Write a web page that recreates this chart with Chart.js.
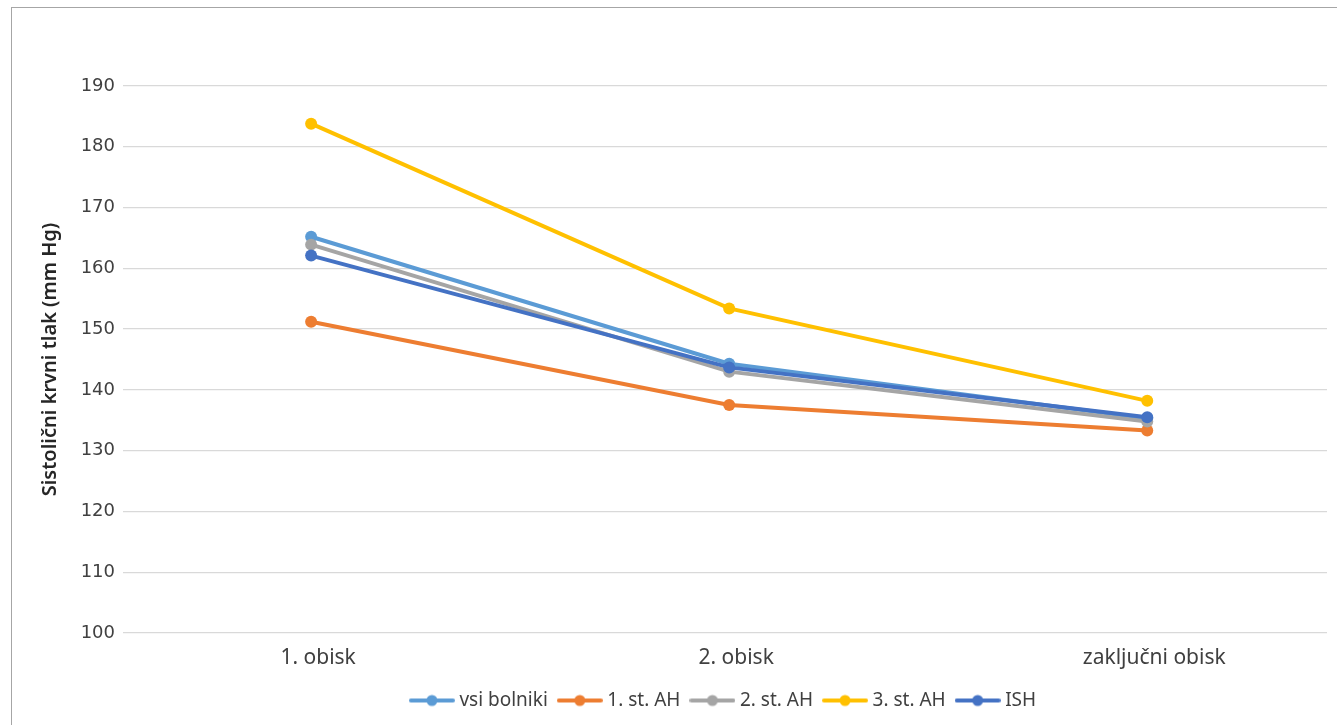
<!DOCTYPE html>
<html>
<head>
<meta charset="utf-8">
<script src="https://cdn.jsdelivr.net/npm/chart.js@4"></script>
<style>
  html, body { margin: 0; padding: 0; background: #fff; overflow: hidden; }
  #wrap { position: relative; width: 1337px; height: 725px; }
  #frame { position: absolute; left: 11px; top: 7px; width: 1400px; height: 800px;
           border-left: 1px solid #a6a6a6; border-top: 1px solid #a6a6a6; pointer-events: none; }
</style>
</head>
<body>
<div id="wrap">
  <canvas id="c" width="1337" height="725"></canvas>
  <div id="frame"></div>
</div>
<script>
const categories = ['1. obisk', '2. obisk', 'zaključni obisk'];
const seriesNames = ['vsi bolniki', '1. st. AH', '2. st. AH', '3. st. AH', 'ISH'];
const vsiBolniki = [165.2, 144.3, 135.3];
const st1AH = [151.2, 137.5, 133.3];
const st2AH = [163.9, 143.0, 134.8];
const st3AH = [183.8, 153.4, 138.2];
const ish = [162.1, 143.7, 135.5];
const yTicks = [100, 110, 120, 130, 140, 150, 160, 170, 180, 190];
const colors = ['#5B9BD5', '#ED7D31', '#A5A5A5', '#FFC000', '#4472C4'];
const seriesValues = [vsiBolniki, st1AH, st2AH, st3AH, ish];

function legendIcon(color) {
  const cv = document.createElement('canvas');
  cv.width = 46; cv.height = 14;
  const g = cv.getContext('2d');
  g.strokeStyle = color; g.lineWidth = 4; g.lineCap = 'round';
  g.beginPath(); g.moveTo(2, 7); g.lineTo(44, 7); g.stroke();
  g.fillStyle = color;
  g.beginPath(); g.arc(23, 7, 5.5, 0, Math.PI * 2); g.fill();
  return cv;
}
const icons = colors.map(legendIcon);

const datasets = seriesNames.map((name, i) => ({
  label: name,
  data: seriesValues[i].map((v, k) => ({ x: k, y: v })),
  borderColor: colors[i],
  backgroundColor: colors[i],
  borderWidth: 4,
  pointRadius: 6,
  pointHoverRadius: 6,
  pointBorderWidth: 0,
  tension: 0,
  order: seriesNames.length - i
}));

new Chart(document.getElementById('c'), {
  type: 'line',
  data: { datasets },
  options: {
    responsive: false,
    animation: false,
    events: [],
    layout: { padding: { left: 38, right: 10, top: 86, bottom: 5 } },
    scales: {
      x: {
        type: 'linear',
        min: -0.45,
        max: 2.43,
        grid: { display: false, drawTicks: false },
        border: { display: false },
        afterBuildTicks: (axis) => { axis.ticks = categories.map((c, i) => ({ value: i })); },
        afterFit: (axis) => { axis.height = 44; },
        ticks: {
          autoSkip: false,
          maxRotation: 0,
          padding: 12,
          labelOffset: 7,
          color: '#404040',
          font: { family: '"Noto Sans", sans-serif', size: 21 },
          callback: (v) => categories[v] ?? ''
        }
      },
      y: {
        min: 100,
        max: 190,
        afterBuildTicks: (axis) => { axis.ticks = yTicks.map(v => ({ value: v })); },
        afterFit: (axis) => { axis.width = 85; },
        grid: { color: '#d9d9d9', lineWidth: 1.3, drawTicks: false },
        border: { display: false },
        ticks: {
          padding: 8,
          color: '#404040',
          font: { family: '"DejaVu Sans", sans-serif', size: 18 }
        },
        title: {
          display: true,
          text: 'Sistolični krvni tlak (mm Hg)',
          color: '#262626',
          padding: { top: 0, bottom: 0 },
          font: { family: '"Noto Sans", sans-serif', size: 20, weight: '600', lineHeight: 1.2 }
        }
      }
    },
    plugins: {
      tooltip: { enabled: false },
      legend: {
        position: 'bottom',
        fullSize: false,
        labels: {
          usePointStyle: true,
          pointStyleWidth: 36,
          padding: 14,
          color: '#404040',
          font: { family: '"Noto Sans", sans-serif', size: 19 },
          generateLabels: (chart) => {
            const items = Chart.defaults.plugins.legend.labels.generateLabels(chart);
            items.forEach(it => { it.pointStyle = icons[it.datasetIndex]; });
            return items;
          },
          sort: (a, b) => a.datasetIndex - b.datasetIndex
        }
      }
    }
  }
});
</script>
</body>
</html>
